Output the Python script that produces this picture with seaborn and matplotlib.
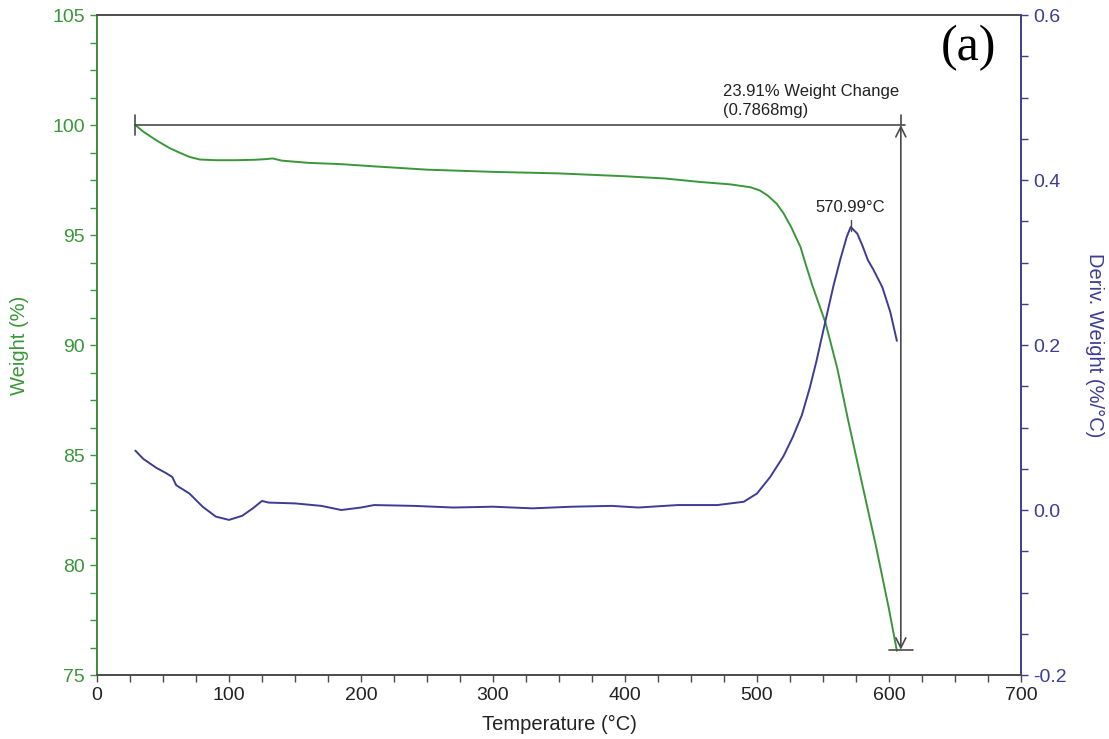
import numpy as np
import pandas as pd
import matplotlib
matplotlib.use("Agg")
import matplotlib.pyplot as plt
from matplotlib.ticker import MultipleLocator
import seaborn as sns

# TGA weight curve
temp_w = [29, 35, 45, 55, 63, 70, 78, 90, 105, 120, 128, 133, 140, 160, 185, 210,
          250, 300, 350, 400, 430, 457, 480, 495, 502, 508, 515, 520, 526, 533, 537,
          542, 547, 552, 561, 569, 580, 590, 600, 606]
weight = [100.0, 99.7, 99.3, 98.95, 98.73, 98.55, 98.43, 98.4, 98.4, 98.42, 98.45,
          98.48, 98.38, 98.28, 98.22, 98.12, 97.97, 97.87, 97.8, 97.67, 97.57,
          97.41, 97.3, 97.17, 97.03, 96.8, 96.42, 96.0, 95.35, 94.45, 93.65,
          92.7, 91.85, 91.0, 88.9, 86.6, 83.6, 80.9, 78.0, 76.1]

# DTG derivative curve
temp_d = [29, 35, 45, 52, 57, 60, 65, 70, 75, 80, 90, 100, 110, 118, 125, 130, 150,
          170, 185, 200, 210, 240, 270, 300, 330, 360, 390, 410, 440, 470, 490, 500,
          510, 520, 527, 534, 540, 545, 552, 558, 563, 568, 571, 576, 580, 584, 588,
          595, 601, 606]
deriv = [0.072, 0.062, 0.051, 0.045, 0.040, 0.030, 0.025, 0.020, 0.012, 0.004,
         -0.008, -0.012, -0.007, 0.002, 0.011, 0.009, 0.008, 0.005, 0.000, 0.003,
         0.006, 0.005, 0.003, 0.004, 0.002, 0.004, 0.005, 0.003, 0.006, 0.006,
         0.010, 0.020, 0.040, 0.065, 0.088, 0.115, 0.148, 0.180, 0.230, 0.272,
         0.303, 0.331, 0.343, 0.335, 0.320, 0.303, 0.292, 0.270, 0.240, 0.205]

green = "#3a963a"
blue = "#3c3c96"
grey = "#4a4a4a"

sns.set_style("ticks")
plt.rcParams["font.family"] = ["Liberation Sans", "DejaVu Sans"]

fig = plt.figure(figsize=(11.09, 7.39), dpi=100)
ax = fig.add_axes([0.0875, 0.0866, 0.8331, 0.8931])
ax2 = ax.twinx()

tga = pd.DataFrame({"T": temp_w, "W": weight})
dtg = pd.DataFrame({"T": temp_d, "D": deriv})
sns.lineplot(data=tga, x="T", y="W", ax=ax, color=green, lw=1.4)
sns.lineplot(data=dtg, x="T", y="D", ax=ax2, color=blue, lw=1.4)

ax.set_xlim(0, 700)
ax.set_ylim(75, 105)
ax2.set_ylim(-0.2, 0.6)
ax.xaxis.set_major_locator(MultipleLocator(100))
ax.xaxis.set_minor_locator(MultipleLocator(25))
ax.yaxis.set_major_locator(MultipleLocator(5))
ax.yaxis.set_minor_locator(MultipleLocator(1.25))
ax2.yaxis.set_major_locator(MultipleLocator(0.2))
ax2.yaxis.set_minor_locator(MultipleLocator(0.05))
ax2.yaxis.set_major_formatter(plt.FuncFormatter(lambda v, p: f"{v:.1f}"))

for a in (ax, ax2):
    for s in a.spines.values():
        s.set_visible(True)
        s.set_linewidth(1.2)
        s.set_color(grey)
ax2.spines["left"].set_color(green)
ax2.spines["right"].set_color(blue)

ax.tick_params(axis="x", which="both", direction="out", colors=grey, labelcolor="#222222",
               labelsize=14, length=5, width=1)
ax.tick_params(axis="y", which="both", direction="out", colors=green, labelsize=14,
               length=5, width=1)
ax2.tick_params(axis="y", which="both", direction="out", colors=blue, labelsize=14,
                length=5, width=1)

ax.set_xlabel("Temperature (°C)", fontsize=14.5, color="#222222", labelpad=8)
ax.set_ylabel("Weight (%)", fontsize=14.5, color=green, labelpad=17)
ax2.set_ylabel("Deriv. Weight (%/°C)", fontsize=14.5, color=blue, rotation=270,
               labelpad=27)

# weight change annotation
ax.plot([29, 612], [100, 100], color=grey, lw=1.2)
ax.plot([29, 29], [99.55, 100.45], color=grey, lw=1.2)
ax.plot([609, 609], [100, 100.45], color=grey, lw=1.2)
ax.annotate("", xy=(609, 76.15), xytext=(609, 100),
            arrowprops=dict(arrowstyle="<->", color=grey, lw=1.2,
                            mutation_scale=18, shrinkA=0, shrinkB=0))
ax.plot([600, 618], [76.15, 76.15], color=grey, lw=1.2)
ax.text(474, 100.3, "23.91% Weight Change\n(0.7868mg)", fontsize=12,
        color="#222222", va="bottom", ha="left", linespacing=1.35)

# peak annotation
ax2.plot([571, 571], [0.338, 0.352], color=grey, lw=1.0)
ax2.text(571, 0.357, "570.99°C", fontsize=12, color="#222222", ha="center",
         va="bottom")

ax.text(660, 103.5, "(a)", fontsize=36, family="Liberation Serif", ha="center",
        va="center", color="black")

fig.savefig("out.png", dpi=100)
